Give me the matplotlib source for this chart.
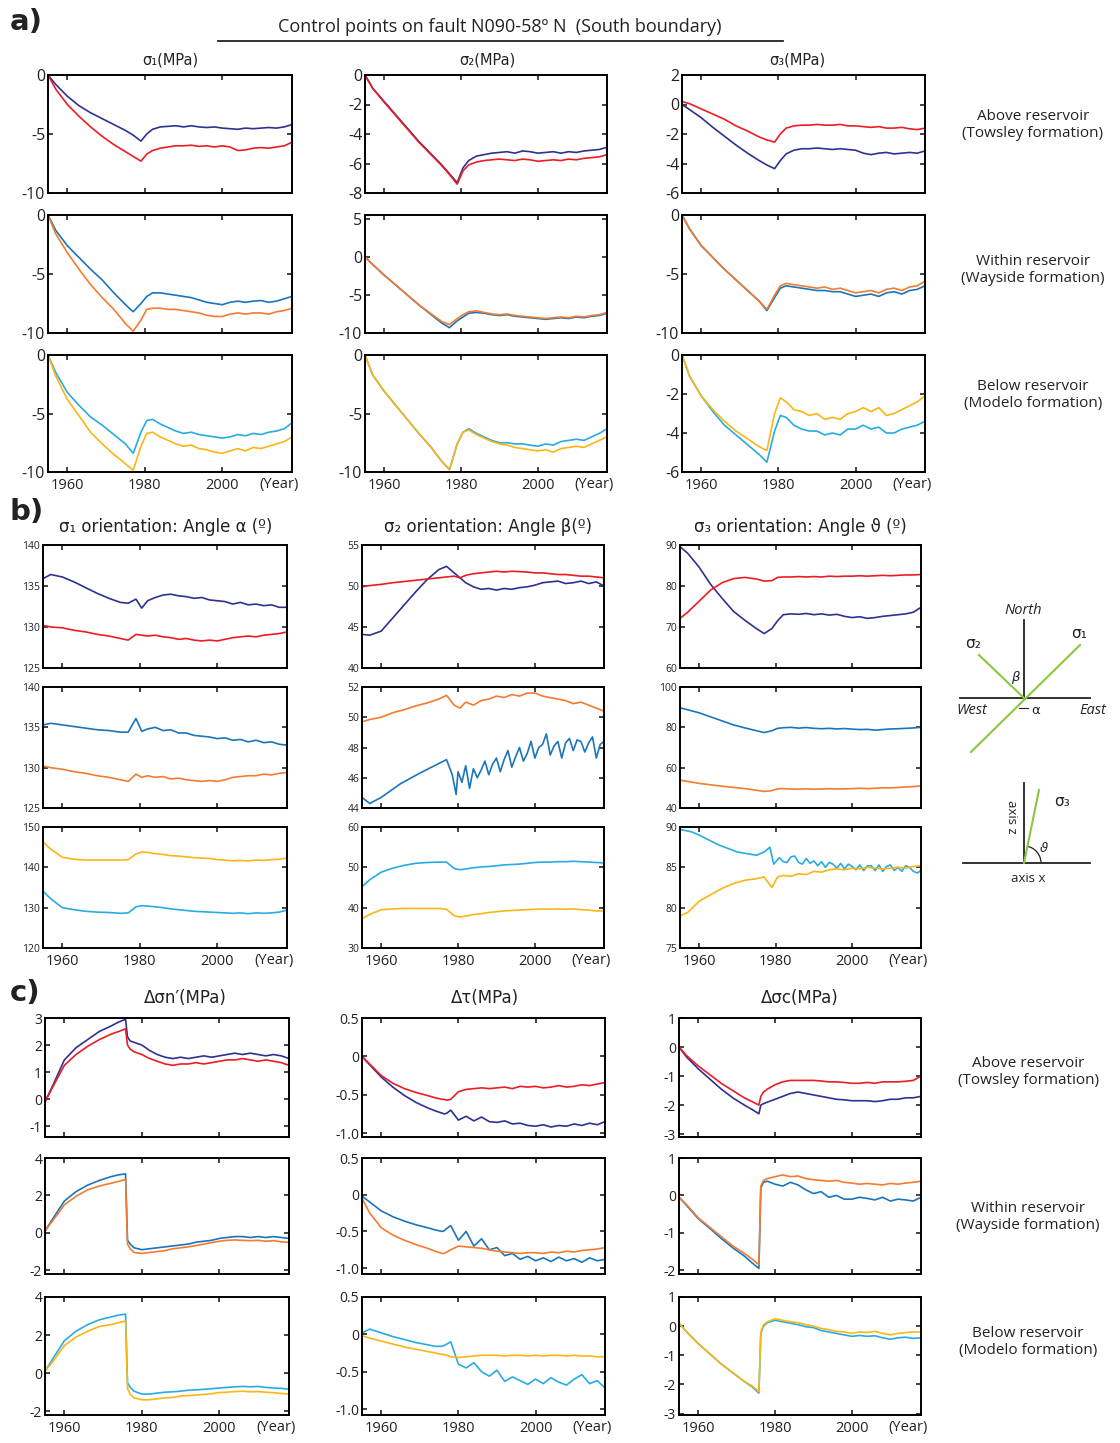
import matplotlib
matplotlib.use('Agg')
import matplotlib.pyplot as plt
from matplotlib.patches import Arc

plt.rcParams['font.family'] = ['Liberation Sans Narrow', 'Open Sans', 'DejaVu Sans']
plt.rcParams['axes.unicode_minus'] = False

W, H = 1120, 1443

# colours of the three control points (above / within / below reservoir)
NAVY, RED = '#2e3192', '#ed1c24'
BLUE, ORANGE = '#1b75bc', '#f47b30'
CYAN, YELLOW = '#29abe2', '#fbb614'

YEAR_TICKS = [1960, 1980, 2000]
XLIM = (1955, 2018)

# ---------------- a) principal stresses (MPa)
years_a = [1955, 1957, 1960, 1963, 1966, 1969, 1972, 1975, 1977, 1979, 1980.5, 1982, 1984,
           1986, 1988, 1990, 1992, 1994, 1996, 1998, 2000, 2002, 2004, 2006, 2008, 2010,
           2012, 2014, 2016, 2018]

a_sig1_above_navy = [0, -0.8, -1.8, -2.6, -3.2, -3.7, -4.2, -4.7, -5.1, -5.6, -5.0, -4.6, -4.4, -4.35, -4.3,
                     -4.4, -4.3, -4.4, -4.45, -4.4, -4.5, -4.55, -4.6, -4.5, -4.55, -4.5, -4.45, -4.5, -4.4, -4.2]
a_sig1_above_red = [0, -1.2, -2.5, -3.5, -4.4, -5.2, -5.9, -6.5, -6.9, -7.3, -6.7, -6.4, -6.2, -6.1, -6.0,
                    -6.0, -5.95, -6.05, -6.0, -6.1, -6.0, -6.1, -6.4, -6.35, -6.2, -6.15, -6.2, -6.1, -6.0, -5.7]
a_sig2_above_navy = [0, -0.9, -1.8, -2.7, -3.6, -4.5, -5.3, -6.1, -6.7, -7.3, -6.3, -5.8, -5.5, -5.4, -5.3,
                     -5.25, -5.2, -5.3, -5.15, -5.2, -5.3, -5.25, -5.2, -5.3, -5.2, -5.25, -5.15, -5.1, -5.05, -4.9]
a_sig2_above_red = [0, -0.9, -1.85, -2.75, -3.65, -4.55, -5.35, -6.15, -6.75, -7.4, -6.5, -6.1, -5.9, -5.8, -5.75,
                    -5.7, -5.75, -5.8, -5.7, -5.75, -5.85, -5.8, -5.75, -5.8, -5.7, -5.75, -5.65, -5.6, -5.55, -5.4]
a_sig3_above_navy = [0, -0.35, -0.9, -1.55, -2.15, -2.75, -3.3, -3.8, -4.1, -4.35, -3.8, -3.35, -3.1, -3.0, -3.0,
                     -2.95, -3.0, -3.05, -3.0, -3.05, -3.1, -3.3, -3.4, -3.3, -3.25, -3.35, -3.3, -3.25, -3.3, -3.15]
a_sig3_above_red = [0.2, 0.05, -0.3, -0.65, -1.0, -1.45, -1.8, -2.2, -2.4, -2.55, -2.0, -1.6, -1.45, -1.4, -1.4,
                    -1.35, -1.4, -1.4, -1.35, -1.45, -1.45, -1.5, -1.55, -1.5, -1.6, -1.6, -1.55, -1.65, -1.7, -1.6]

a_sig1_within_blue = [0, -1.3, -2.6, -3.6, -4.6, -5.5, -6.6, -7.6, -8.2, -7.5, -6.9, -6.6, -6.6, -6.7, -6.8,
                      -6.9, -7.0, -7.2, -7.4, -7.5, -7.6, -7.4, -7.3, -7.4, -7.3, -7.25, -7.4, -7.3, -7.1, -6.9]
a_sig1_within_orange = [0, -1.6, -3.2, -4.6, -5.9, -7.0, -8.0, -9.2, -9.85, -8.9, -8.0, -7.9, -7.9, -8.0, -8.0,
                        -8.1, -8.2, -8.3, -8.5, -8.6, -8.6, -8.4, -8.3, -8.4, -8.3, -8.3, -8.4, -8.2, -8.1, -7.9]
a_sig2_within_blue = [0, -1.0, -2.4, -3.7, -5.0, -6.3, -7.5, -8.7, -9.3, -8.4, -7.9, -7.4, -7.3, -7.4, -7.6,
                      -7.7, -7.6, -7.8, -7.9, -8.0, -8.1, -8.2, -8.1, -8.0, -8.1, -7.9, -8.0, -7.8, -7.7, -7.4]
a_sig2_within_orange = [0, -1.0, -2.4, -3.7, -5.0, -6.3, -7.4, -8.5, -8.9, -8.1, -7.6, -7.2, -7.1, -7.3, -7.5,
                        -7.6, -7.5, -7.7, -7.8, -7.9, -8.0, -8.1, -8.0, -7.9, -8.0, -7.8, -7.9, -7.7, -7.6, -7.3]
a_sig3_within_blue = [0, -1.2, -2.6, -3.6, -4.6, -5.5, -6.4, -7.3, -8.1, -7.0, -6.2, -6.0, -6.1, -6.2, -6.3,
                      -6.4, -6.4, -6.5, -6.5, -6.7, -6.9, -6.8, -6.7, -6.9, -6.6, -6.5, -6.7, -6.4, -6.3, -6.0]
a_sig3_within_orange = [0, -1.2, -2.6, -3.6, -4.6, -5.5, -6.4, -7.3, -8.0, -6.8, -6.0, -5.8, -5.9, -6.0, -6.1,
                        -6.2, -6.1, -6.3, -6.2, -6.4, -6.6, -6.5, -6.4, -6.6, -6.3, -6.2, -6.4, -6.1, -6.0, -5.6]

a_sig1_below_cyan = [0, -1.5, -3.2, -4.3, -5.3, -6.0, -6.8, -7.6, -8.4, -6.6, -5.6, -5.5, -5.9, -6.2, -6.5,
                     -6.7, -6.6, -6.8, -6.9, -7.0, -7.1, -7.0, -6.8, -6.9, -6.7, -6.8, -6.6, -6.5, -6.3, -5.8]
a_sig1_below_yellow = [0, -1.8, -3.8, -5.2, -6.6, -7.6, -8.5, -9.3, -9.85, -7.8, -6.7, -6.6, -7.0, -7.3, -7.6,
                       -7.8, -7.7, -8.0, -8.1, -8.3, -8.4, -8.2, -8.0, -8.2, -7.9, -8.0, -7.8, -7.6, -7.4, -7.0]
a_sig2_below_cyan = [0, -1.7, -3.1, -4.3, -5.5, -6.7, -7.8, -9.1, -9.8, -7.6, -6.6, -6.3, -6.7, -7.0, -7.3,
                     -7.5, -7.5, -7.6, -7.6, -7.7, -7.8, -7.6, -7.7, -7.4, -7.3, -7.2, -7.3, -7.0, -6.7, -6.3]
a_sig2_below_yellow = [0, -1.7, -3.1, -4.3, -5.5, -6.7, -7.8, -9.1, -9.8, -7.6, -6.6, -6.4, -6.8, -7.1, -7.4,
                       -7.6, -7.7, -7.9, -8.0, -8.1, -8.2, -8.1, -8.3, -8.0, -7.9, -7.8, -7.9, -7.6, -7.3, -7.0]
a_sig3_below_cyan = [0, -1.1, -2.1, -2.9, -3.6, -4.1, -4.6, -5.1, -5.5, -3.9, -3.1, -3.2, -3.6, -3.8, -3.9,
                     -3.9, -4.1, -4.0, -4.1, -3.8, -3.8, -3.6, -3.8, -3.7, -4.0, -4.0, -3.8, -3.7, -3.6, -3.4]
a_sig3_below_yellow = [0, -1.1, -2.1, -2.8, -3.4, -3.9, -4.3, -4.7, -4.9, -3.0, -2.2, -2.4, -2.8, -2.9, -3.1,
                       -3.0, -3.3, -3.2, -3.3, -3.0, -2.9, -2.7, -2.9, -2.7, -3.1, -3.0, -2.8, -2.6, -2.4, -2.1]

# ---------------- b) orientation angles (degrees)
years_b = years_a
years_b_beta_noisy = [1955, 1957, 1960, 1965, 1970, 1977, 1978.5, 1979.5] + list(range(1980, 2019))
years_b_theta_noisy = [1955, 1958, 1960, 1965, 1970, 1975, 1977, 1978.5, 1979.5] + list(range(1981, 2019))

b_alpha_above_navy = [135.9, 136.4, 136.1, 135.5, 134.8, 134.1, 133.5, 133.0, 132.9, 133.4, 132.3, 133.2, 133.6,
                      133.9, 134.0, 133.8, 133.7, 133.5, 133.6, 133.3, 133.2, 133.1, 132.8, 133.0, 132.7, 132.8,
                      132.6, 132.7, 132.4, 132.4]
b_alpha_above_red = [130.2, 130.0, 129.9, 129.6, 129.4, 129.1, 128.9, 128.6, 128.4, 129.1, 129.0, 128.9, 129.0,
                     128.8, 128.7, 128.5, 128.6, 128.4, 128.3, 128.4, 128.3, 128.5, 128.7, 128.8, 128.9, 128.8,
                     129.0, 129.1, 129.2, 129.4]
b_beta_above_navy = [44.1, 44.0, 44.5, 46.1, 47.7, 49.3, 50.8, 52.0, 52.4, 51.6, 51.0, 50.4, 49.9, 49.6, 49.7,
                     49.5, 49.7, 49.6, 49.8, 49.9, 50.1, 50.4, 50.5, 50.6, 50.3, 50.4, 50.6, 50.3, 50.5, 50.0]
b_beta_above_red = [49.9, 50.05, 50.2, 50.4, 50.55, 50.7, 50.85, 51.0, 51.1, 51.2, 51.0, 51.3, 51.5, 51.6, 51.7,
                    51.8, 51.7, 51.8, 51.75, 51.7, 51.6, 51.6, 51.5, 51.4, 51.4, 51.3, 51.2, 51.2, 51.1, 51.0]
b_theta_above_navy = [89.6, 88.0, 84.6, 80.4, 77.0, 73.8, 71.6, 69.6, 68.4, 69.6, 71.5, 73.0, 73.2, 73.1, 73.3,
                      73.0, 73.2, 72.9, 73.1, 72.6, 72.3, 72.5, 72.1, 72.3, 72.6, 72.8, 73.0, 73.2, 73.6, 74.8]
b_theta_above_red = [72.1, 73.6, 76.3, 79.0, 80.8, 81.8, 82.1, 81.7, 81.2, 81.3, 82.1, 82.2, 82.2, 82.3, 82.2,
                     82.3, 82.2, 82.4, 82.3, 82.4, 82.4, 82.5, 82.4, 82.5, 82.6, 82.5, 82.6, 82.7, 82.7, 82.8]

b_alpha_within_blue = [135.3, 135.5, 135.3, 135.1, 134.9, 134.7, 134.6, 134.4, 134.4, 136.1, 134.5, 134.8, 135.0,
                       134.6, 134.7, 134.3, 134.3, 134.0, 133.9, 133.8, 133.6, 133.7, 133.4, 133.5, 133.2, 133.4,
                       133.1, 133.2, 132.9, 132.8]
b_alpha_within_orange = [130.2, 130.0, 129.8, 129.5, 129.3, 129.0, 128.8, 128.5, 128.3, 129.2, 128.8, 129.0, 128.8,
                         128.9, 128.6, 128.7, 128.5, 128.4, 128.3, 128.4, 128.3, 128.5, 128.8, 128.9, 129.0, 129.0,
                         129.2, 129.1, 129.3, 129.4]
b_beta_within_blue = [44.7, 44.3, 44.7, 45.6, 46.3, 47.2, 46.2, 44.9,
                      46.4, 45.7, 46.8, 45.3, 46.6, 46.0, 46.5, 47.1, 46.2, 46.9,
                      47.3, 46.4, 47.2, 47.8, 46.7, 47.4, 48.0, 47.1, 47.6, 48.4,
                      47.3, 48.0, 48.2, 48.9, 47.5, 48.1, 48.4, 47.3, 48.3, 48.6,
                      47.8, 48.5, 48.4, 47.7, 48.3, 48.7, 47.3, 48.2, 48.4]
b_beta_within_orange = [49.7, 49.85, 50.0, 50.3, 50.5, 50.75, 50.95, 51.2, 51.45, 50.8, 50.6, 51.0, 50.8, 51.1,
                        51.2, 51.4, 51.3, 51.5, 51.4, 51.6, 51.6, 51.4, 51.3, 51.2, 51.1, 50.9, 51.0, 50.8, 50.6,
                        50.4]
b_theta_within_blue = [89.7, 88.7, 87.2, 85.2, 83.2, 81.2, 79.7, 78.3, 77.4, 78.3, 79.5, 79.8, 80.0, 79.6, 79.9,
                       79.5, 79.3, 79.5, 79.2, 79.4, 79.1, 78.9, 79.0, 78.6, 78.9, 79.2, 79.3, 79.5, 79.7, 80.0]
b_theta_within_orange = [53.8, 53.2, 52.2, 51.5, 50.8, 50.2, 49.6, 48.8, 48.2, 48.6, 49.5, 49.6, 49.4, 49.3, 49.5,
                         49.3, 49.4, 49.6, 49.4, 49.5, 49.6, 49.8, 49.6, 49.8, 50.0, 50.0, 50.2, 50.4, 50.6, 51.0]

b_alpha_below_cyan = [134.1, 132.2, 130.0, 129.5, 129.1, 128.9, 128.8, 128.6, 128.7, 130.2, 130.5, 130.4, 130.2,
                      130.0, 129.7, 129.5, 129.3, 129.1, 129.0, 128.9, 128.8, 128.7, 128.6, 128.7, 128.5, 128.7,
                      128.6, 128.7, 128.9, 129.4]
b_alpha_below_yellow = [146.3, 144.5, 142.5, 142.0, 141.8, 141.8, 141.8, 141.8, 141.9, 143.3, 143.8, 143.7, 143.4,
                        143.2, 142.9, 142.8, 142.6, 142.4, 142.3, 142.2, 141.9, 141.8, 141.6, 141.7, 141.6, 141.8,
                        141.7, 141.9, 142.0, 142.3]
b_beta_below_cyan = [45.2, 46.9, 48.8, 49.8, 50.5, 51.0, 51.2, 51.3, 51.3, 49.7, 49.4, 49.6, 49.9, 50.1, 50.2,
                     50.4, 50.6, 50.7, 50.8, 51.0, 51.2, 51.3, 51.3, 51.4, 51.4, 51.5, 51.4, 51.3, 51.2, 51.1]
b_beta_below_yellow = [37.3, 38.3, 39.5, 39.7, 39.8, 39.8, 39.8, 39.8, 39.6, 38.0, 37.7, 37.9, 38.3, 38.5, 38.8,
                       39.0, 39.2, 39.3, 39.4, 39.5, 39.6, 39.7, 39.6, 39.7, 39.6, 39.7, 39.5, 39.4, 39.2, 39.2]
b_theta_below_cyan = [89.7, 89.4, 89.0, 87.8, 86.9, 86.5, 86.9, 87.5, 85.4,
                      86.2, 85.7, 85.6, 86.3, 86.4, 85.6, 85.4, 86.1, 85.5, 85.8,
                      85.2, 85.7, 85.0, 85.6, 85.4, 84.9, 85.5, 84.8, 85.4, 85.1,
                      84.7, 85.3, 84.6, 85.2, 85.2, 84.6, 85.3, 84.5, 85.1, 85.3,
                      84.6, 85.0, 84.5, 85.2, 85.0, 84.5, 84.3, 84.6]
b_theta_below_yellow = [79.0, 79.4, 80.8, 81.6, 82.4, 83.0, 83.4, 83.6, 83.8, 82.5, 83.8, 84.0, 83.9, 84.2, 84.1,
                        84.5, 84.4, 84.7, 84.8, 84.7, 84.9, 84.8, 85.0, 84.9, 84.8, 84.9, 85.0, 84.9, 85.1, 85.2]

# ---------------- c) Coulomb components (MPa)
years_c = [1955, 1957, 1960, 1963, 1966, 1969, 1972, 1974, 1975.8, 1976.3, 1977, 1978, 1980, 1982, 1984, 1986,
           1988, 1990, 1992, 1994, 1996, 1998, 2000, 2002, 2004, 2006, 2008, 2010, 2012, 2014, 2016, 2018]

c_sn_above_navy = [-0.1, 0.5, 1.45, 1.9, 2.2, 2.5, 2.7, 2.85, 2.95, 2.3, 2.15, 2.1, 2.0, 1.8, 1.65, 1.55, 1.5,
                   1.55, 1.5, 1.55, 1.6, 1.55, 1.6, 1.65, 1.7, 1.65, 1.7, 1.65, 1.6, 1.65, 1.6, 1.5]
c_sn_above_red = [-0.1, 0.45, 1.25, 1.65, 1.95, 2.2, 2.4, 2.5, 2.6, 2.0, 1.85, 1.75, 1.65, 1.5, 1.4, 1.3, 1.25,
                  1.3, 1.3, 1.35, 1.3, 1.35, 1.4, 1.45, 1.45, 1.5, 1.45, 1.4, 1.45, 1.4, 1.35, 1.25]
c_tau_above_navy = [0, -0.11, -0.27, -0.4, -0.51, -0.6, -0.67, -0.71, -0.74, -0.75, -0.74, -0.70, -0.83, -0.78,
                    -0.84, -0.79, -0.85, -0.86, -0.84, -0.88, -0.87, -0.90, -0.91, -0.89, -0.92, -0.90, -0.91,
                    -0.88, -0.90, -0.87, -0.89, -0.85]
c_tau_above_red = [0, -0.1, -0.25, -0.35, -0.42, -0.47, -0.51, -0.54, -0.56, -0.56, -0.57, -0.56, -0.46, -0.43,
                   -0.42, -0.41, -0.42, -0.41, -0.40, -0.42, -0.39, -0.40, -0.39, -0.41, -0.40, -0.38, -0.40,
                   -0.39, -0.37, -0.38, -0.36, -0.34]
c_sc_above_navy = [0, -0.35, -0.75, -1.1, -1.45, -1.75, -2.0, -2.15, -2.3, -2.0, -1.95, -1.9, -1.8, -1.7, -1.6,
                   -1.55, -1.6, -1.65, -1.7, -1.75, -1.8, -1.82, -1.85, -1.85, -1.85, -1.88, -1.85, -1.8, -1.8,
                   -1.75, -1.75, -1.7]
c_sc_above_red = [0, -0.3, -0.65, -0.95, -1.25, -1.5, -1.75, -1.88, -2.0, -1.7, -1.55, -1.45, -1.3, -1.2, -1.15,
                  -1.15, -1.15, -1.15, -1.17, -1.2, -1.2, -1.22, -1.25, -1.25, -1.22, -1.25, -1.2, -1.2, -1.2,
                  -1.18, -1.15, -1.0]

c_sn_within_blue = [0.1, 0.75, 1.7, 2.2, 2.55, 2.8, 3.0, 3.1, 3.15, -0.4, -0.6, -0.8, -0.9, -0.85, -0.8, -0.75,
                    -0.7, -0.65, -0.6, -0.5, -0.45, -0.4, -0.3, -0.25, -0.2, -0.2, -0.25, -0.2, -0.25, -0.2,
                    -0.25, -0.3]
c_sn_within_orange = [0.1, 0.65, 1.5, 1.95, 2.3, 2.5, 2.65, 2.75, 2.85, -0.6, -0.85, -1.05, -1.1, -1.05, -1.0,
                      -0.95, -0.85, -0.8, -0.75, -0.68, -0.6, -0.52, -0.45, -0.4, -0.38, -0.4, -0.42, -0.4, -0.45,
                      -0.42, -0.48, -0.5]
c_tau_within_blue = [-0.02, -0.1, -0.22, -0.3, -0.36, -0.41, -0.45, -0.48, -0.5, -0.49, -0.46, -0.42, -0.62,
                     -0.5, -0.7, -0.6, -0.75, -0.72, -0.83, -0.8, -0.88, -0.84, -0.9, -0.86, -0.91, -0.85, -0.9,
                     -0.87, -0.92, -0.86, -0.9, -0.88]
c_tau_within_orange = [-0.05, -0.25, -0.45, -0.55, -0.62, -0.68, -0.73, -0.77, -0.8, -0.8, -0.78, -0.75, -0.7,
                       -0.71, -0.72, -0.73, -0.75, -0.77, -0.78, -0.79, -0.8, -0.79, -0.79, -0.8, -0.78, -0.79,
                       -0.77, -0.78, -0.76, -0.75, -0.74, -0.72]
c_sc_within_blue = [-0.05, -0.27, -0.62, -0.88, -1.15, -1.4, -1.62, -1.8, -1.95, 0.2, 0.35, 0.38, 0.3, 0.25,
                    0.35, 0.28, 0.15, 0.05, 0.1, -0.05, 0.0, -0.1, -0.1, -0.05, -0.08, -0.12, -0.05, -0.15, -0.1,
                    -0.12, -0.15, -0.05]
c_sc_within_orange = [-0.05, -0.25, -0.6, -0.85, -1.1, -1.35, -1.55, -1.7, -1.85, 0.25, 0.4, 0.45, 0.5, 0.55,
                      0.5, 0.52, 0.45, 0.42, 0.4, 0.38, 0.4, 0.35, 0.33, 0.3, 0.32, 0.3, 0.28, 0.32, 0.3, 0.33,
                      0.35, 0.38]

c_sn_below_cyan = [0.1, 0.75, 1.7, 2.2, 2.55, 2.8, 2.95, 3.05, 3.1, -0.5, -0.75, -0.95, -1.1, -1.1, -1.05, -1.0,
                   -0.98, -0.95, -0.9, -0.88, -0.85, -0.82, -0.78, -0.75, -0.72, -0.7, -0.72, -0.7, -0.75, -0.78,
                   -0.8, -0.85]
c_sn_below_yellow = [0.1, 0.6, 1.45, 1.9, 2.2, 2.45, 2.55, 2.65, 2.75, -0.8, -1.1, -1.3, -1.4, -1.4, -1.35, -1.3,
                     -1.28, -1.2, -1.18, -1.15, -1.12, -1.08, -1.02, -1.0, -0.97, -0.95, -0.98, -0.97, -1.0,
                     -1.03, -1.07, -1.1]
c_tau_below_cyan = [0.02, 0.07, 0.02, -0.03, -0.07, -0.11, -0.14, -0.16, -0.16, -0.15, -0.13, -0.1, -0.4, -0.45,
                    -0.38, -0.5, -0.56, -0.48, -0.63, -0.57, -0.62, -0.67, -0.6, -0.66, -0.58, -0.64, -0.68, -0.6,
                    -0.54, -0.66, -0.62, -0.72]
c_tau_below_yellow = [-0.02, -0.05, -0.09, -0.13, -0.17, -0.2, -0.23, -0.25, -0.27, -0.27, -0.28, -0.3, -0.31,
                      -0.3, -0.29, -0.28, -0.28, -0.28, -0.29, -0.28, -0.28, -0.29, -0.28, -0.29, -0.28, -0.28,
                      -0.29, -0.28, -0.29, -0.29, -0.3, -0.3]
c_sc_below_cyan = [0.1, -0.2, -0.6, -0.95, -1.3, -1.6, -1.9, -2.08, -2.3, -0.25, 0.0, 0.12, 0.2, 0.15, 0.1, 0.05,
                   -0.02, -0.05, -0.15, -0.2, -0.25, -0.3, -0.35, -0.32, -0.35, -0.33, -0.4, -0.45, -0.4, -0.38,
                   -0.42, -0.4]
c_sc_below_yellow = [0.1, -0.2, -0.6, -0.95, -1.3, -1.6, -1.9, -2.05, -2.25, -0.2, 0.05, 0.15, 0.25, 0.2, 0.15,
                     0.12, 0.05, 0.0, -0.08, -0.12, -0.18, -0.2, -0.25, -0.2, -0.22, -0.18, -0.25, -0.3, -0.25,
                     -0.22, -0.2, -0.2]

# panel frames in pixels: (x0, x1) for columns, (y0, y1) for rows
COLS_A = [(48, 292), (365, 607), (682, 925)]
ROWS_A = [(75, 193), (215, 333), (355, 472)]
COLS_B = [(43, 287), (362, 604), (680, 921)]
ROWS_B = [(545, 668), (687, 808), (827, 948)]
COLS_C = [(45, 289), (362, 605), (679, 921)]
ROWS_C = [(1018, 1137), (1158, 1274), (1297, 1415)]

fig = plt.figure(figsize=(W / 100, H / 100), dpi=100)


def panel(col, row, lines, ylim, yticks, ylabels=None, yfs=10, last=False):
    (x0, x1), (y0, y1) = col, row
    ax = fig.add_axes([x0 / W, 1 - y1 / H, (x1 - x0) / W, (y1 - y0) / H])
    for yrs, vals, c in lines:
        ax.plot(yrs, vals, color=c, lw=1.2)
    ax.set_xlim(*XLIM)
    ax.set_ylim(*ylim)
    ax.set_xticks(YEAR_TICKS)
    ax.set_yticks(yticks)
    if ylabels is not None:
        ax.set_yticklabels(ylabels)
    ax.tick_params(direction='in', length=3.5, width=1.2, top=True, right=True,
                   labelsize=yfs, pad=2, colors='#222222')
    ax.tick_params(axis='x', labelsize=10.5, pad=4, labelbottom=last)
    for s in ax.spines.values():
        s.set_linewidth(1.4)
    if last:
        ax.text(0.945, -0.045, '(Year)', transform=ax.transAxes, ha='center', va='top',
                fontsize=10.5, color='#222222')
    return ax


# a) rows: above, within, below
A = [
    [([(years_a, a_sig1_above_navy, NAVY), (years_a, a_sig1_above_red, RED)], (-10, 0), [-10, -5, 0]),
     ([(years_a, a_sig2_above_navy, NAVY), (years_a, a_sig2_above_red, RED)], (-8, 0), [-8, -6, -4, -2, 0]),
     ([(years_a, a_sig3_above_navy, NAVY), (years_a, a_sig3_above_red, RED)], (-6, 2), [-6, -4, -2, 0, 2])],
    [([(years_a, a_sig1_within_blue, BLUE), (years_a, a_sig1_within_orange, ORANGE)], (-10, 0), [-10, -5, 0]),
     ([(years_a, a_sig2_within_blue, BLUE), (years_a, a_sig2_within_orange, ORANGE)], (-10, 5.5), [-10, -5, 0, 5]),
     ([(years_a, a_sig3_within_blue, BLUE), (years_a, a_sig3_within_orange, ORANGE)], (-10, 0), [-10, -5, 0])],
    [([(years_a, a_sig1_below_cyan, CYAN), (years_a, a_sig1_below_yellow, YELLOW)], (-10, 0), [-10, -5, 0]),
     ([(years_a, a_sig2_below_cyan, CYAN), (years_a, a_sig2_below_yellow, YELLOW)], (-10, 0), [-10, -5, 0]),
     ([(years_a, a_sig3_below_cyan, CYAN), (years_a, a_sig3_below_yellow, YELLOW)], (-6, 0), [-6, -4, -2, 0])],
]
for r, row in enumerate(A):
    for c, (lines, yl, yt) in enumerate(row):
        panel(COLS_A[c], ROWS_A[r], lines, yl, yt, yfs=11.5, last=(r == 2))

B = [
    [([(years_b, b_alpha_above_navy, NAVY), (years_b, b_alpha_above_red, RED)], (125, 140), [125, 130, 135, 140]),
     ([(years_b, b_beta_above_navy, NAVY), (years_b, b_beta_above_red, RED)], (40, 55), [40, 45, 50, 55]),
     ([(years_b, b_theta_above_navy, NAVY), (years_b, b_theta_above_red, RED)], (60, 90), [60, 70, 80, 90])],
    [([(years_b, b_alpha_within_blue, BLUE), (years_b, b_alpha_within_orange, ORANGE)], (125, 140),
      [125, 130, 135, 140]),
     ([(years_b_beta_noisy, b_beta_within_blue, BLUE), (years_b, b_beta_within_orange, ORANGE)], (44, 52),
      [44, 46, 48, 50, 52]),
     ([(years_b, b_theta_within_blue, BLUE), (years_b, b_theta_within_orange, ORANGE)], (40, 100),
      [40, 60, 80, 100])],
    [([(years_b, b_alpha_below_cyan, CYAN), (years_b, b_alpha_below_yellow, YELLOW)], (120, 150),
      [120, 130, 140, 150]),
     ([(years_b, b_beta_below_cyan, CYAN), (years_b, b_beta_below_yellow, YELLOW)], (30, 60), [30, 40, 50, 60]),
     ([(years_b_theta_noisy, b_theta_below_cyan, CYAN), (years_b, b_theta_below_yellow, YELLOW)], (75, 90),
      [75, 80, 85, 90])],
]
for r, row in enumerate(B):
    for c, (lines, yl, yt) in enumerate(row):
        panel(COLS_B[c], ROWS_B[r], lines, yl, yt, yfs=7.5, last=(r == 2))

TAU_TICKS = [-1.0, -0.5, 0, 0.5]
TAU_LABELS = ['-1.0', '-0.5', '0', '0.5']
C = [
    [([(years_c, c_sn_above_navy, NAVY), (years_c, c_sn_above_red, RED)], (-1.4, 3), [-1, 0, 1, 2, 3], None),
     ([(years_c, c_tau_above_navy, NAVY), (years_c, c_tau_above_red, RED)], (-1.05, 0.5), TAU_TICKS, TAU_LABELS),
     ([(years_c, c_sc_above_navy, NAVY), (years_c, c_sc_above_red, RED)], (-3.1, 1), [-3, -2, -1, 0, 1], None)],
    [([(years_c, c_sn_within_blue, BLUE), (years_c, c_sn_within_orange, ORANGE)], (-2.2, 4), [-2, 0, 2, 4], None),
     ([(years_c, c_tau_within_blue, BLUE), (years_c, c_tau_within_orange, ORANGE)], (-1.08, 0.5), TAU_TICKS,
      TAU_LABELS),
     ([(years_c, c_sc_within_blue, BLUE), (years_c, c_sc_within_orange, ORANGE)], (-2.1, 1), [-2, -1, 0, 1], None)],
    [([(years_c, c_sn_below_cyan, CYAN), (years_c, c_sn_below_yellow, YELLOW)], (-2.2, 4), [-2, 0, 2, 4], None),
     ([(years_c, c_tau_below_cyan, CYAN), (years_c, c_tau_below_yellow, YELLOW)], (-1.08, 0.5), TAU_TICKS,
      TAU_LABELS),
     ([(years_c, c_sc_below_cyan, CYAN), (years_c, c_sc_below_yellow, YELLOW)], (-3.05, 1), [-3, -2, -1, 0, 1],
      None)],
]
for r, row in enumerate(C):
    for c, (lines, yl, yt, lab) in enumerate(row):
        panel(COLS_C[c], ROWS_C[r], lines, yl, yt, ylabels=lab, yfs=10, last=(r == 2))

# overlay in pixel coordinates for headings, side labels and sketches
ov = fig.add_axes([0, 0, 1, 1], zorder=10)
ov.set_xlim(0, W)
ov.set_ylim(H, 0)
ov.axis('off')
ov.patch.set_alpha(0)
TXT = '#222222'

for lab, y in [('a)', 22), ('b)', 512), ('c)', 993)]:
    ov.text(10, y, lab, fontsize=21, fontweight='bold', va='center', ha='left', color=TXT,
            family=['DejaVu Sans'])

ov.text(500, 27, 'Control points on fault N090-58º N  (South boundary)', ha='center', va='center',
        fontsize=13, color=TXT)
ov.plot([218, 783], [41, 41], color=TXT, lw=1.3)

for x, s in [(170, 'σ₁(MPa)'), (487, 'σ₂(MPa)'), (797, 'σ₃(MPa)')]:
    ov.text(x, 60, s, ha='center', va='center', fontsize=10.5, color=TXT, family=['DejaVu Sans'])

for x, s in [(166, 'σ₁ orientation: Angle α (º)'), (488, 'σ₂ orientation: Angle β(º)'),
             (800, 'σ₃ orientation: Angle ϑ (º)')]:
    ov.text(x, 527, s, ha='center', va='center', fontsize=12, color=TXT, family=['DejaVu Sans'])

for x, s in [(185, 'Δσn′(MPa)'), (485, 'Δτ(MPa)'), (800, 'Δσc(MPa)')]:
    ov.text(x, 998, s, ha='center', va='center', fontsize=12, color=TXT, family=['DejaVu Sans'])

SIDE = ['Above reservoir\n(Towsley formation)', 'Within reservoir\n(Wayside formation)',
        'Below reservoir\n(Modelo formation)']
for s, y in zip(SIDE, [125, 270, 395]):
    ov.text(1033, y, s, ha='center', va='center', fontsize=11, color=TXT, linespacing=1.15)
for s, y in zip(SIDE, [1072, 1217, 1342]):
    ov.text(1028, y, s, ha='center', va='center', fontsize=11, color=TXT, linespacing=1.15)

# compass sketch for alpha / beta
GREEN = '#8cc63f'
ov.plot([1024, 1024], [620, 698], color=TXT, lw=1.3)
ov.plot([960, 1090], [698, 698], color=TXT, lw=1.3)
ov.plot([971, 1080], [752, 645], color=GREEN, lw=1.5)
ov.plot([979, 1024], [655, 698], color=GREEN, lw=1.5)
ov.text(1023, 611, 'North', ha='center', va='center', fontsize=10.5, style='italic', color=TXT)
ov.text(972, 710, 'West', ha='center', va='center', fontsize=10.5, style='italic', color=TXT)
ov.text(1093, 710, 'East', ha='center', va='center', fontsize=10.5, style='italic', color=TXT)
ov.text(973, 643, 'σ₂', ha='center', va='center', fontsize=11, color=TXT, family=['DejaVu Sans'])
ov.text(1079, 634, 'σ₁', ha='center', va='center', fontsize=11, color=TXT, family=['DejaVu Sans'])
ov.text(1015, 677, 'β', ha='center', va='center', fontsize=9.5, style='italic', color=TXT,
        family=['DejaVu Sans'])
ov.text(1036, 711, 'α', ha='center', va='center', fontsize=9.5, color=TXT, family=['DejaVu Sans'])
ov.plot([1019, 1028], [708, 708], color=TXT, lw=0.8)

# vertical plane sketch for theta
ov.plot([1024, 1024], [783, 863], color=TXT, lw=1.3)
ov.plot([963, 1090], [863, 863], color=TXT, lw=1.3)
ov.plot([1024, 1039], [863, 790], color=GREEN, lw=1.5)
ov.add_patch(Arc((1024, 863), 34, 34, theta1=-78, theta2=0, color=TXT, lw=0.9))
ov.text(1062, 801, 'σ₃', ha='center', va='center', fontsize=11, color=TXT, family=['DejaVu Sans'])
ov.text(1044, 849, 'ϑ', ha='center', va='center', fontsize=9.5, style='italic', color=TXT,
        family=['DejaVu Sans'])
ov.text(1012, 817, 'axis z', ha='center', va='center', fontsize=9.5, rotation=-90, color=TXT)
ov.text(1028, 878, 'axis x', ha='center', va='center', fontsize=9.5, color=TXT)

fig.savefig('out.png', dpi=100)
